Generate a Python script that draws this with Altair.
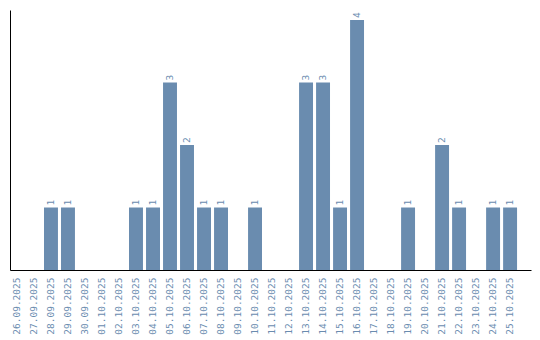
import altair as alt
import pandas as pd

dates = ["26.09.2025", "27.09.2025", "28.09.2025", "29.09.2025", "30.09.2025",
         "01.10.2025", "02.10.2025", "03.10.2025", "04.10.2025", "05.10.2025",
         "06.10.2025", "07.10.2025", "08.10.2025", "09.10.2025", "10.10.2025",
         "11.10.2025", "12.10.2025", "13.10.2025", "14.10.2025", "15.10.2025",
         "16.10.2025", "17.10.2025", "18.10.2025", "19.10.2025", "20.10.2025",
         "21.10.2025", "22.10.2025", "23.10.2025", "24.10.2025", "25.10.2025"]
values = [0, 0, 1, 1, 0,
          0, 0, 1, 1, 3,
          2, 1, 1, 0, 1,
          0, 0, 3, 3, 1,
          4, 0, 0, 1, 0,
          2, 1, 0, 1, 1]

df = pd.DataFrame({"date": dates, "value": values})
df["label"] = df["value"].apply(lambda v: str(v) if v > 0 else "")

COLOR = "#6a8caf"
FONT = "DejaVu Sans Mono"

x = alt.X("date:N", sort=dates, title=None,
          scale=alt.Scale(paddingInner=0.18, paddingOuter=0.41, align=0),
          axis=alt.Axis(labelAngle=270, labelAlign="right", labelBaseline="middle",
                        ticks=False, labelPadding=7, domainColor="black",
                        labelColor=COLOR, labelFont=FONT, labelFontSize=9.5,
                        labelOverlap=False))
y = alt.Y("value:Q", title=None, scale=alt.Scale(domain=[0, 4.16], nice=False),
          axis=alt.Axis(labels=False, ticks=False, grid=False, domainColor="black"))

bars = alt.Chart(df).mark_bar(color=COLOR).encode(x=x, y=y)
text = alt.Chart(df).mark_text(angle=270, align="left", baseline="middle",
                               dx=2, color=COLOR, font=FONT, fontSize=9.5).encode(
    x=alt.X("date:N", sort=dates), y="value:Q", text="label:N")

chart = alt.layer(bars, text).properties(
    width=521, height=260,
    padding={"left": 10, "top": 10, "right": 9, "bottom": 70},
    autosize=alt.AutoSizeParams(type="none"),
    background="white",
).configure_view(stroke=None)

chart.save("out.html", embed_options={"renderer": "svg", "actions": False})
